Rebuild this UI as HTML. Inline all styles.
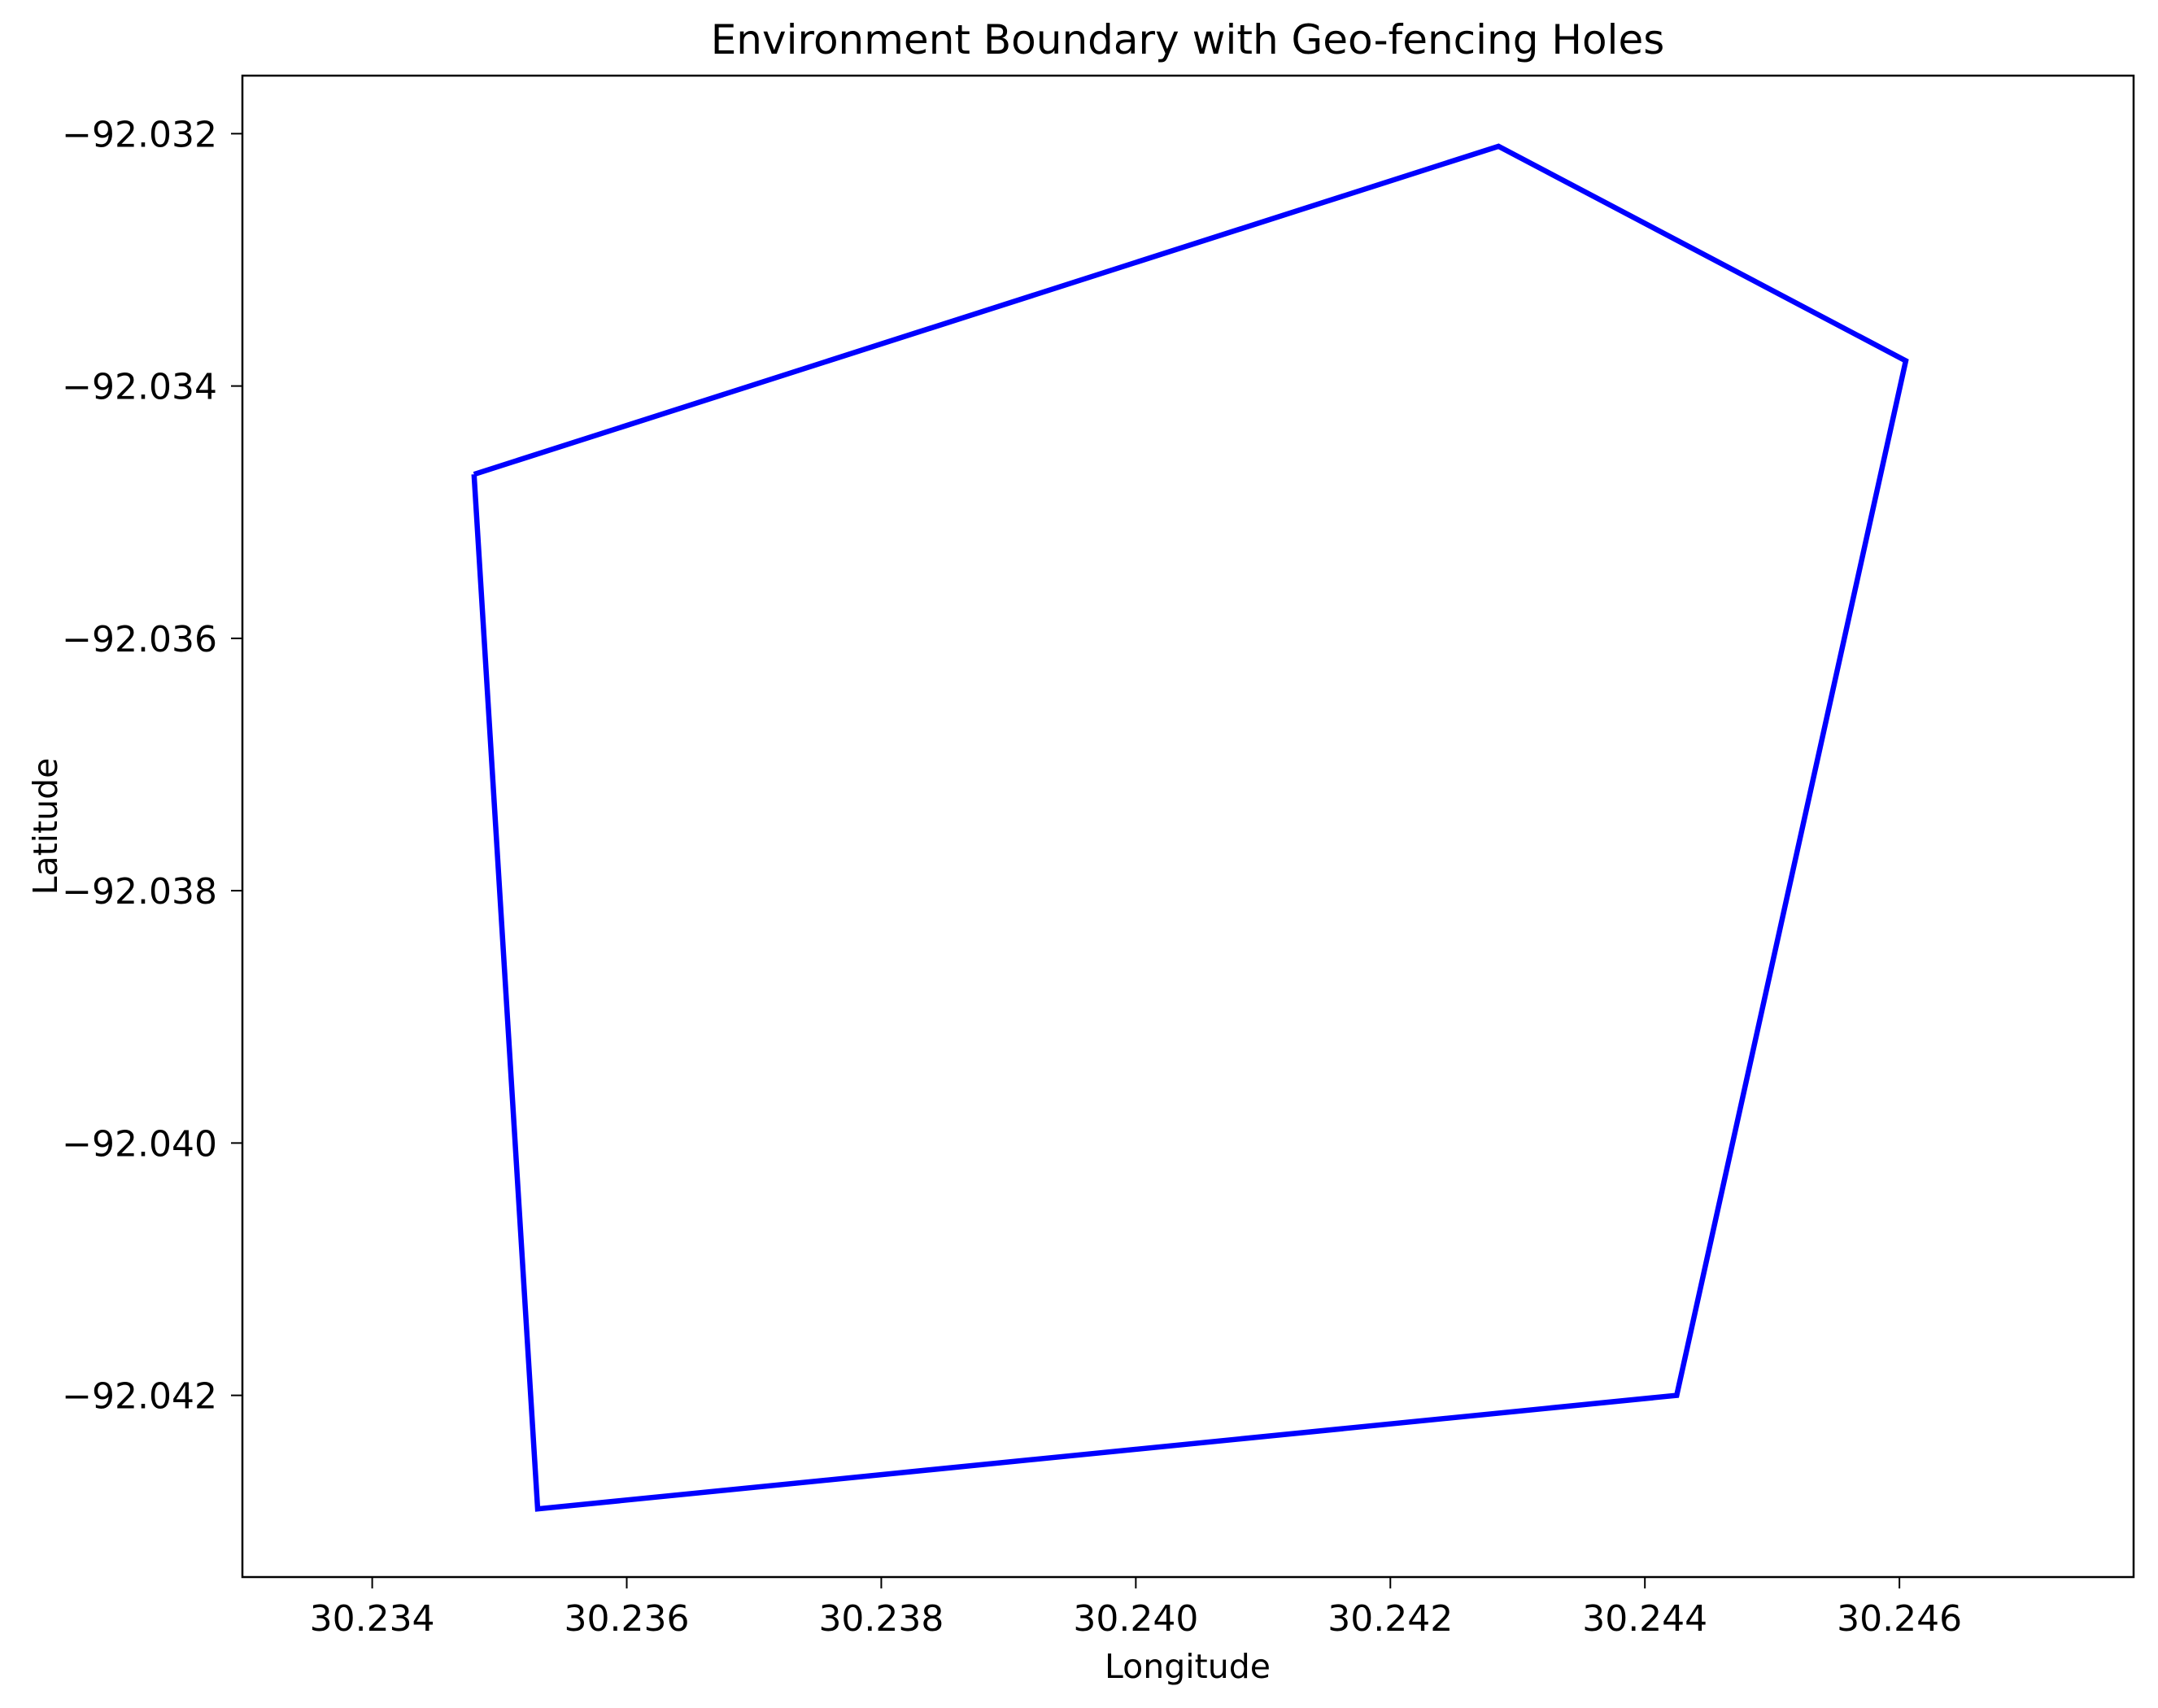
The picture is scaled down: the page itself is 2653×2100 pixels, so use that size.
<!DOCTYPE html>
<html><head><meta charset="utf-8"><style>html,body{margin:0;padding:0;background:#fff}svg{display:block}text{font-family:"DejaVu Sans","Liberation Sans",sans-serif;fill:#000}</style></head>
<body>
<svg id="chart" width="2653" height="2100" xmlns="http://www.w3.org/2000/svg">
<rect width="2653" height="2100" fill="#fff"/>
<text x="1460" y="66" font-size="50" text-anchor="middle">Environment Boundary with Geo-fencing Holes</text>
<text x="1460" y="2063" font-size="41" text-anchor="middle">Longitude</text>
<text x="70" y="1016" font-size="41" text-anchor="middle" transform="rotate(-90 70 1016)">Latitude</text>
<g id="plot"></g>
<rect x="298" y="93" width="2325" height="1846" fill="none" stroke="#000" stroke-width="2.5"/>
</svg>
<script>
const lonValues = [30.2348, 30.24285, 30.24605, 30.24425, 30.2353, 30.2348];
const latValues = [-92.0347, -92.0321, -92.0338, -92.0420, -92.0429, -92.0347];
const xTicks = [30.234, 30.236, 30.238, 30.240, 30.242, 30.244, 30.246];
const yTicks = [-92.032, -92.034, -92.036, -92.038, -92.040, -92.042];
const L=298,R=2623,T=93,B=1939;
const x0=30.23298,x1=30.24784,y0=-92.04344,y1=-92.03154;
const sx=v=>L+(v-x0)/(x1-x0)*(R-L);
const sy=v=>B-(v-y0)/(y1-y0)*(B-T);
const NS="http://www.w3.org/2000/svg";
const g=document.getElementById('plot');
xTicks.forEach(t=>{
  const x=sx(t);
  const l=document.createElementNS(NS,'line');
  l.setAttribute('x1',x);l.setAttribute('x2',x);l.setAttribute('y1',B);l.setAttribute('y2',B+14);
  l.setAttribute('stroke','#000');l.setAttribute('stroke-width','2');
  
  
  g.appendChild(l);
  const tx=document.createElementNS(NS,'text');
  tx.setAttribute('x',x);tx.setAttribute('y',B+66);tx.setAttribute('font-size','44');tx.setAttribute('text-anchor','middle');
  tx.textContent=t.toFixed(3);
  
  
  g.appendChild(tx);
});
yTicks.forEach(t=>{
  const y=sy(t);
  const l=document.createElementNS(NS,'line');
  l.setAttribute('x1',L-14);l.setAttribute('x2',L);l.setAttribute('y1',y);l.setAttribute('y2',y);
  l.setAttribute('stroke','#000');l.setAttribute('stroke-width','2');
  
  
  g.appendChild(l);
  const tx=document.createElementNS(NS,'text');
  tx.setAttribute('x',L-31);tx.setAttribute('y',y+16);tx.setAttribute('font-size','44');tx.setAttribute('text-anchor','end');
  tx.textContent='\u2212'+Math.abs(t).toFixed(3);
  
  
  g.appendChild(tx);
});
const p=document.createElementNS(NS,'polyline');
p.setAttribute('points',lonValues.map((v,i)=>sx(v)+','+sy(latValues[i])).join(' '));
p.setAttribute('fill','none');p.setAttribute('stroke','#0000ff');p.setAttribute('stroke-width','6.5');p.setAttribute('stroke-linejoin','miter');


g.appendChild(p);
</script>
</body></html>
